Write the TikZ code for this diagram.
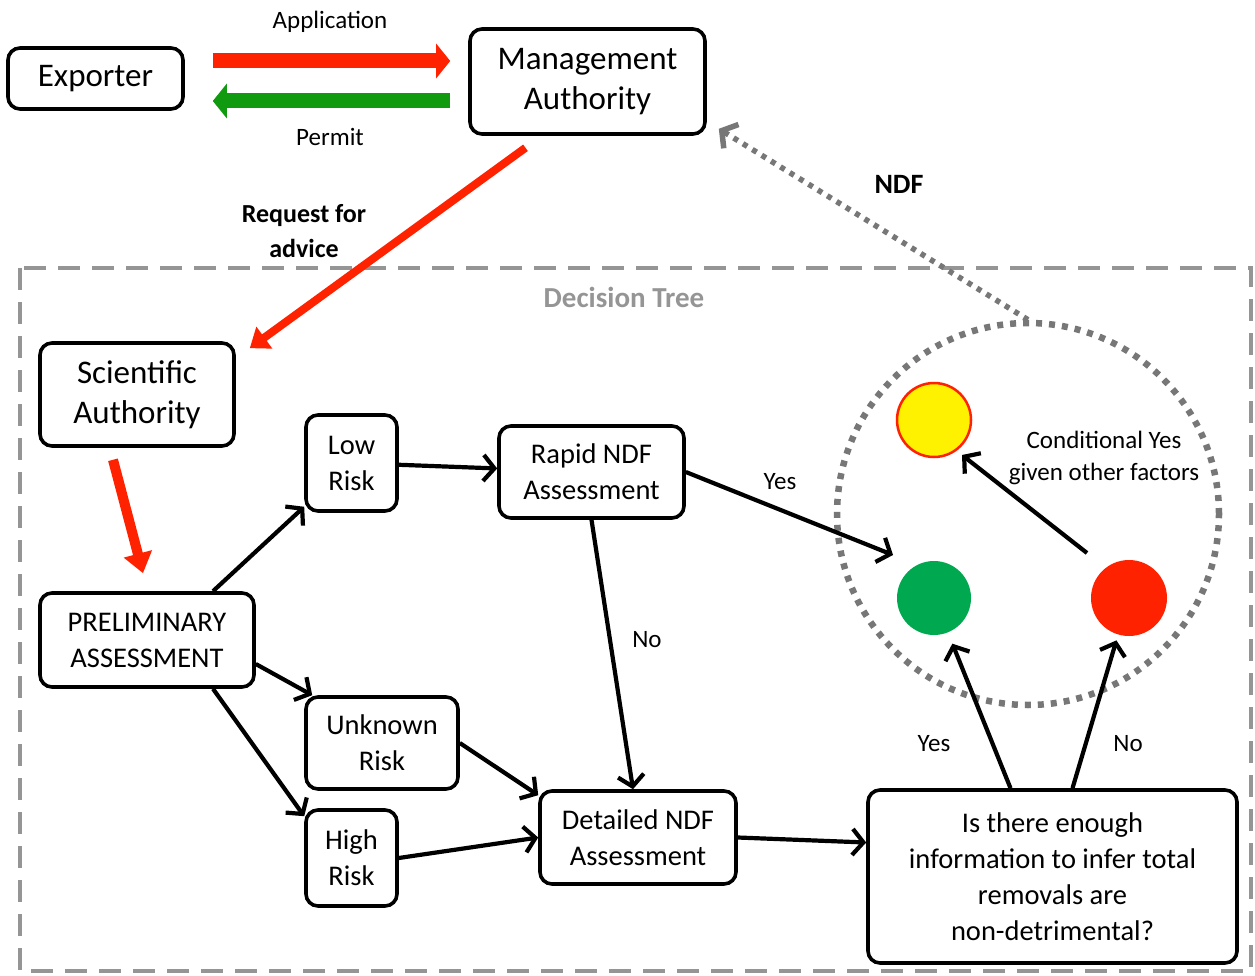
\documentclass[tikz,border=0pt]{standalone}
\usepackage{fontspec}
\setmainfont{Carlito}
\usetikzlibrary{arrows.meta}
\definecolor{myred}{HTML}{FF2200}
\definecolor{mygreen}{HTML}{109A10}
\definecolor{dgreen}{HTML}{00A84F}
\definecolor{dgray}{HTML}{777777}
\definecolor{lgray}{HTML}{959595}
\begin{document}
\begin{tikzpicture}[x=1pt,y=-1pt,
 box/.style={draw, line width=3.6pt, rounded corners=12pt, align=center, inner sep=0pt, font=\fontsize{28.5}{36}\selectfont},
 bigbox/.style={box, font=\fontsize{33}{40}\selectfont},
 lab/.style={font=\fontsize{25}{32}\selectfont, inner sep=0pt, align=center},
 blab/.style={font=\bfseries\fontsize{26}{35}\selectfont, inner sep=0pt, align=center},
 conn/.style={line width=4.2pt, -{Straight Barb[length=11pt,width=26pt]}},
 light/.style={circle, inner sep=0pt, minimum size=74pt}
]
\useasboundingbox (0,0) rectangle (1255,976);
\fill[white] (0,0) rectangle (1255,976);

% dashed frame
\draw[lgray, line width=4pt, dash pattern=on 22pt off 12pt] (20,268) rectangle (1251,971);
\node[font=\bfseries\fontsize{29}{35}\selectfont, text=lgray] (dt) at (624,297) {Decision Tree};

% top boxes
\node[bigbox, minimum width=175pt, minimum height=61pt] (exp) at (95.5,78.5) {Exporter};
\node[bigbox, minimum width=235pt, minimum height=105pt] (ma) at (587.5,81.5) {Management\\Authority};
\node[bigbox, minimum width=194pt, minimum height=103pt] (sa) at (137,394.5) {Scientific\\Authority};

% tree boxes
\node[box, minimum width=214pt, minimum height=94pt] (prelim) at (147,640) {PRELIMINARY\\ASSESSMENT};
\node[box, minimum width=91pt, minimum height=96pt] (low) at (351.5,463) {Low\\Risk};
\node[box, minimum width=185pt, minimum height=92pt] (rapid) at (591.5,472) {Rapid NDF\\Assessment};
\node[box, minimum width=152pt, minimum height=92pt] (unk) at (382,743) {Unknown\\Risk};
\node[box, minimum width=91pt, minimum height=96pt] (high) at (351.5,858) {High\\Risk};
\node[box, minimum width=196pt, minimum height=93pt] (det) at (638,837.5) {Detailed NDF\\Assessment};
\node[box, minimum width=369pt, minimum height=173pt] (q) at (1052.5,876.5) {Is there enough\\information to infer total\\removals are\\non-detrimental?};

% ring and lights
\node[circle, draw=dgray, line width=6.5pt, dash pattern=on 6pt off 7pt, minimum size=382pt, inner sep=0pt] (ring) at (1028,514) {};
\node[light, fill=yellow, draw=myred, line width=2.5pt] (yellow) at (934,420) {};
\node[light, fill=dgreen] (green) at (934,598) {};
\node[light, fill=myred, minimum size=76pt] (red) at (1129,598) {};

% fat arrows
\draw[myred, line width=15pt, -{Triangle[length=14pt,width=34pt]}] ([shift={(28pt,17.5pt)}]exp.east) -- ([shift={(-18pt,20.5pt)}]ma.west);
\draw[mygreen, line width=15pt, -{Triangle[length=14pt,width=34pt]}] ([shift={(-18pt,-19.5pt)}]ma.west) -- ([shift={(28pt,-22.5pt)}]exp.east);
\node[lab] (app) at (330,22) {Application};
\node[lab] (perm) at (330,137) {Permit};

% red request arrows
\draw[myred, line width=8pt, -{Triangle[length=18pt,width=26pt]}] ([shift={(-62pt,-12pt)}]ma.south) -- ([shift={(14pt,-7pt)}]sa.north east);
\node[blab] (req) at (304,231) {Request for\\advice};
\draw[myred, line width=10pt, -{Triangle[length=20pt,width=28pt]}] ([shift={(-24pt,-12pt)}]sa.south) -- ([shift={(-4pt,18pt)}]prelim.north);

% NDF dotted arrow
\draw[dgray, line width=5.5pt, dash pattern=on 5pt off 6pt, -{Straight Barb[length=11pt,width=28pt]}] (ring.north) -- ([shift={(12pt,7pt)}]ma.south east);
\node[font=\bfseries\fontsize{28}{34}\selectfont, inner sep=0pt] (ndf) at (899,184) {NDF};

% black connectors
\draw[conn] ([xshift=66pt]prelim.north) -- (low);
\draw[conn] ([yshift=-24pt]prelim.east) -- ([xshift=8pt]unk.north west);
\draw[conn] ([xshift=66pt]prelim.south) -- ([yshift=-8pt]high.north west);
\draw[conn] (low) -- (rapid);
\draw[conn] (rapid.south) -- ([xshift=-5pt]det.north);
\draw[conn] (unk.east) -- ([yshift=-6pt]det.north west);
\draw[conn] (high.east) -- (det.west);
\draw[conn] (rapid.east) -- ([shift={(-41pt,43pt)}]green.center);
\draw[conn] (det.east) -- ([yshift=34pt]q.west);
\draw[conn, shorten >=12pt] ([xshift=-42pt]q.north) -- (green);
\draw[conn, shorten >=6pt] ([xshift=20pt]q.north) -- (red);
\draw[conn] ([shift={(-42pt,45pt)}]red.center) -- ([shift={(28pt,-35pt)}]yellow.center);

% labels
\node[lab] (no1) at (647,640) {No};
\node[lab] (yes1) at (780,482) {Yes};
\node[lab] (yes2) at (934,744) {Yes};
\node[lab] (no2) at (1128,744) {No};
\node[lab] (cond) at (1104,458) {Conditional Yes\\given other factors};
\end{tikzpicture}
\end{document}
